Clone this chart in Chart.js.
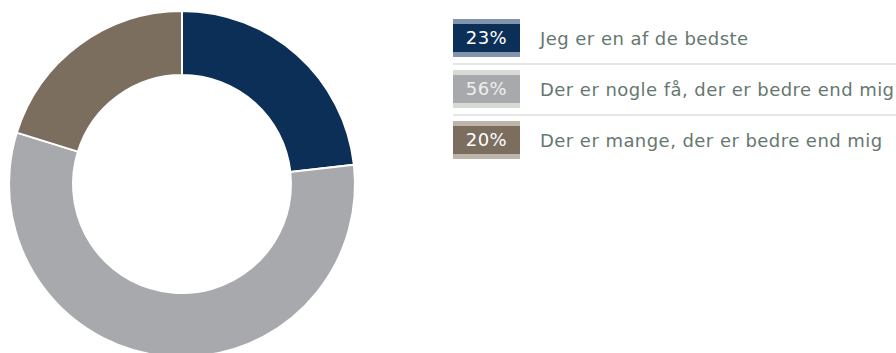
<!DOCTYPE html>
<html>
<head>
<meta charset="utf-8">
<script src="https://cdn.jsdelivr.net/npm/chart.js@4/dist/chart.umd.min.js"></script>
<style>
  html, body {
    margin: 0;
    padding: 0;
    background: #ffffff;
    width: 896px;
    height: 353px;
    overflow: hidden;
  }

  #chartBox {
    position: absolute;
    left: 0;
    top: 0;
    width: 364px;
    height: 368px;
  }

  #legend {
    position: absolute;
    left: 453px;
    top: 19px;
    right: 0;
    font-family: "DejaVu Sans", Verdana, sans-serif;
  }

  .row {
    position: absolute;
    left: 0;
    right: 0;
    height: 38px;
    display: flex;
    align-items: center;
  }

  .sep {
    position: absolute;
    left: 0;
    right: 0;
    height: 2px;
    background: #e6e6e6;
  }

  .pct {
    box-sizing: border-box;
    width: 67px;
    height: 38px;
    border-top: 5px solid;
    border-bottom: 5px solid;
    font-size: 18px;
    letter-spacing: 0.45px;
    line-height: 28px;
    text-align: center;
  }

  .label {
    margin-left: 20px;
    color: #66776f;
    font-size: 18px;
    letter-spacing: 0.45px;
    white-space: nowrap;
  }
</style>
</head>
<body>
<div id="chartBox"><canvas id="answersChart"></canvas></div>
<div id="legend"></div>

<script>
const answerLabels = [
  "Jeg er en af de bedste",
  "Der er nogle få, der er bedre end mig",
  "Der er mange, der er bedre end mig",
];
const answerShares = [23, 56, 20];

const sliceColors = ["#0b2f57", "#a8a9ad", "#7b6e5f"];
const stripColors = ["#8295ac", "#d7dbd5", "#beb5aa"];
const pctTextColors = ["#ffffff", "#eef0f0", "#ffffff"];

const rowStep = 51;

function renderLegend() {
  const legend = document.getElementById("legend");

  legend.innerHTML = answerLabels
    .map((label, index) => {
      const top = index * rowStep;
      const separator =
        index < answerLabels.length - 1
          ? `<div class="sep" style="top:${top + 44}px"></div>`
          : "";

      return `
        <div class="row" style="top:${top}px">
          <div class="pct" style="background:${sliceColors[index]};border-color:${stripColors[index]};color:${pctTextColors[index]}">${answerShares[index]}%</div>
          <div class="label">${label}</div>
        </div>
        ${separator}
      `;
    })
    .join("");
}

function renderChart() {
  const canvas = document.getElementById("answersChart");

  new Chart(canvas, {
    type: "doughnut",
    data: {
      labels: answerLabels,
      datasets: [
        {
          data: answerShares,
          backgroundColor: sliceColors,
          borderColor: "#ffffff",
          borderWidth: 2,
        },
      ],
    },
    options: {
      responsive: true,
      maintainAspectRatio: false,
      animation: false,
      cutout: "63%",
      layout: {
        padding: 8,
      },
      plugins: {
        legend: {
          display: false,
        },
        tooltip: {
          enabled: false,
        },
      },
    },
  });
}

renderLegend();
renderChart();
</script>
</body>
</html>
